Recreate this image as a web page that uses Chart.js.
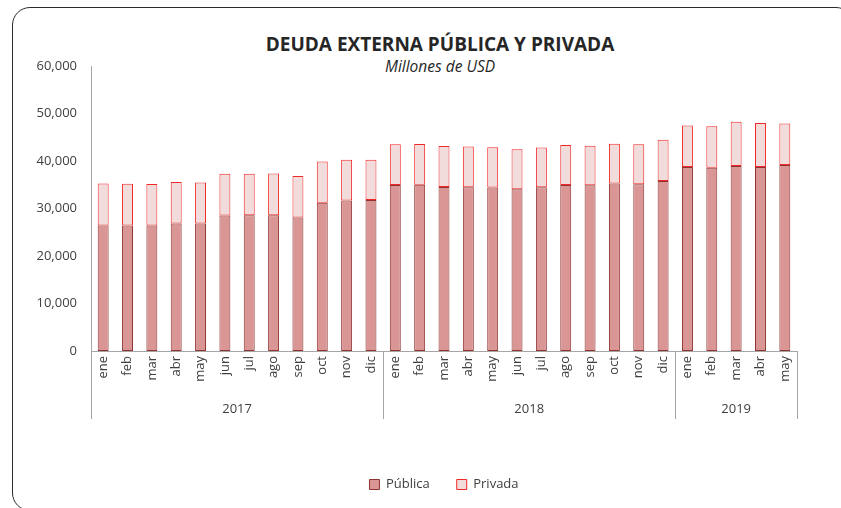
<!DOCTYPE html>
<html>
<head>
<meta charset="utf-8">
<script src="https://cdn.jsdelivr.net/npm/chart.js@4.4.1/dist/chart.umd.min.js"></script>
<style>
  html, body { margin: 0; padding: 0; background: #fff; }
  #wrap { position: relative; width: 841px; height: 508px; overflow: hidden; }
  #frame {
    position: absolute; left: 12px; top: 7px; width: 842px; height: 504px;
    border: 1.5px solid #2b2b2b; border-radius: 18px; box-sizing: border-box;
  }
  #title {
    position: absolute; left: 0; width: 880px; top: 31px; text-align: center;
    font: bold 19px 'Open Sans', sans-serif; color: #262626;
  }
  #subtitle {
    position: absolute; left: 0; width: 880px; top: 55px; text-align: center;
    font: italic 15.5px 'Open Sans', sans-serif; color: #262626;
  }
  canvas { position: absolute; left: 0; top: 0; }
</style>
</head>
<body>
<div id="wrap">
  <div id="frame"></div>
  <div id="title">DEUDA EXTERNA PÚBLICA Y PRIVADA</div>
  <div id="subtitle">Millones de USD</div>
  <canvas id="myChart" width="841" height="508"></canvas>
</div>
<script>
const months = ['ene', 'feb', 'mar', 'abr', 'may', 'jun', 'jul', 'ago', 'sep', 'oct', 'nov', 'dic',
  'ene', 'feb', 'mar', 'abr', 'may', 'jun', 'jul', 'ago', 'sep', 'oct', 'nov', 'dic',
  'ene', 'feb', 'mar', 'abr', 'may'];
const years = ['2017', '2018', '2019'];
const yearCounts = [12, 12, 5];

const publica = [26400, 26400, 26400, 26850, 26850, 28550, 28600, 28600, 28100, 31200, 31700, 31800,
  34950, 35000, 34550, 34450, 34400, 34050, 34450, 34950, 34900, 35250, 35100, 35800,
  38750, 38600, 38950, 38750, 39150];
const privada = [8850, 8800, 8750, 8750, 8650, 8750, 8700, 8750, 8750, 8700, 8550, 8450,
  8600, 8600, 8600, 8600, 8500, 8400, 8400, 8400, 8300, 8400, 8450, 8650,
  8750, 8700, 9300, 9250, 8750];

const textColor = '#404040';
const axisColor = '#a6a6a6';

// year labels under the months, with separators between the years
const yearGroups = {
  id: 'yearGroups',
  afterDraw(chart) {
    const x = chart.scales.x;
    const ctx = chart.ctx;
    const step = x.width / months.length;
    ctx.save();
    ctx.strokeStyle = axisColor;
    ctx.lineWidth = 1;
    ctx.fillStyle = textColor;
    ctx.font = '13px "Open Sans", sans-serif';
    ctx.textAlign = 'center';
    ctx.textBaseline = 'middle';
    let start = 0;
    const bounds = [x.left];
    years.forEach((yr, i) => {
      const end = start + yearCounts[i] - 1;
      const l = x.getPixelForValue(start) - step / 2;
      const r = x.getPixelForValue(end) + step / 2;
      bounds.push(r);
      ctx.fillText(yr, (l + r) / 2, x.top + 58);
      start = end + 1;
    });
    bounds.forEach(b => {
      const px = Math.round(b) + 0.5;
      ctx.beginPath();
      ctx.moveTo(px, x.top);
      ctx.lineTo(px, x.top + 68);
      ctx.stroke();
    });
    ctx.restore();
  }
};

const config = {
  type: 'bar',
  data: {
    labels: months,
    datasets: [
      {
        label: 'Pública',
        data: publica,
        backgroundColor: '#d99694',
        borderColor: '#8e3533',
        borderWidth: 1,
        borderSkipped: false,
      },
      {
        label: 'Privada',
        data: privada,
        backgroundColor: '#f2dcdb',
        borderColor: '#f02828',
        borderWidth: 1,
        borderSkipped: false,
      },
    ],
  },
  options: {
    responsive: false,
    animation: false,
    datasets: { bar: { categoryPercentage: 0.45, barPercentage: 1 } },
    layout: { padding: { top: 66, right: 44, bottom: 7, left: 0 } },
    scales: {
      x: {
        stacked: true,
        grid: { display: false, drawTicks: false },
        border: { display: true, color: axisColor },
        ticks: {
          color: textColor,
          font: { family: 'Open Sans', size: 13 },
          autoSkip: false,
          minRotation: 90,
          maxRotation: 90,
          padding: 5,
        },
        afterFit(scale) { scale.height = 100; },
      },
      y: {
        stacked: true,
        min: 0,
        max: 60000,
        grid: { display: false, drawTicks: false },
        border: { display: true, color: axisColor },
        ticks: {
          stepSize: 10000,
          color: textColor,
          font: { family: 'Open Sans', size: 13 },
          padding: 14,
          callback: v => v.toLocaleString('en-US'),
        },
        afterFit(scale) { scale.width = 91; },
      },
    },
    plugins: {
      legend: {
        position: 'bottom',
        fullSize: false,
        labels: {
          color: textColor,
          font: { family: 'Open Sans', size: 13 },
          boxWidth: 10,
          boxHeight: 10,
          padding: 27,
        },
      },
      tooltip: { enabled: false },
    },
  },
  plugins: [yearGroups],
};

new Chart(document.getElementById('myChart'), config);
</script>
</body>
</html>
